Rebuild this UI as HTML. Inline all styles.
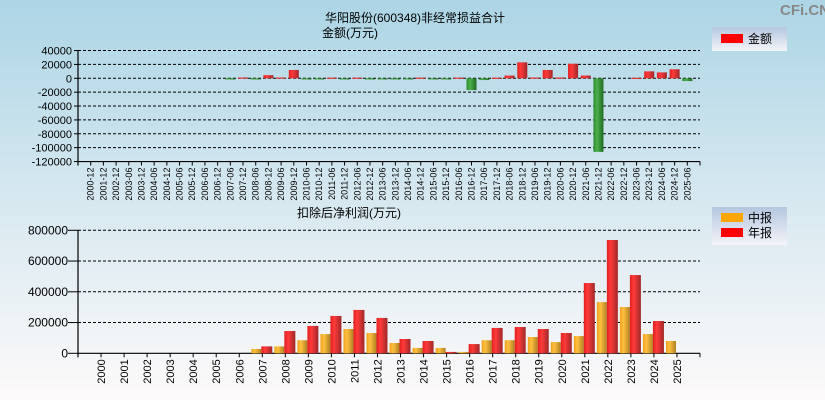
<!DOCTYPE html>
<html><head><meta charset="utf-8"><style>
html,body{margin:0;padding:0;width:825px;height:400px;overflow:hidden}
svg{display:block;font-family:"Liberation Sans","Noto Sans CJK SC",sans-serif}
</style></head><body>
<svg id="c" width="825" height="400" xmlns="http://www.w3.org/2000/svg">
<defs>
<linearGradient id="bg" x1="0" y1="0" x2="0" y2="1"><stop offset="0" stop-color="#acd5e5"/><stop offset="0.55" stop-color="#dbeaf1"/><stop offset="1" stop-color="#fdfafa"/></linearGradient>
<linearGradient id="red" x1="0" y1="0" x2="1" y2="0"><stop offset="0" stop-color="#e02020"/><stop offset="0.35" stop-color="#ff3a3a"/><stop offset="1" stop-color="#a02828"/></linearGradient>
<linearGradient id="grn" x1="0" y1="0" x2="1" y2="0"><stop offset="0" stop-color="#2a8a2a"/><stop offset="0.35" stop-color="#4cb04c"/><stop offset="1" stop-color="#1f6a1f"/></linearGradient>
<linearGradient id="yel" x1="0" y1="0" x2="1" y2="0"><stop offset="0" stop-color="#f0a020"/><stop offset="0.35" stop-color="#ffc040"/><stop offset="1" stop-color="#b08020"/></linearGradient>
<linearGradient id="leg" x1="0" y1="0" x2="0" y2="1"><stop offset="0" stop-color="#b4c6e0"/><stop offset="1" stop-color="#f4f4f8"/></linearGradient>
</defs>
<rect width="825" height="400" fill="url(#bg)"/>
<text x="780" y="15" font-size="15" fill="#888" font-weight="bold">CFi.CN</text>
<text x="325" y="22" font-size="12">华阳股份(600348)非经常损益合计</text>
<text x="322" y="37" font-size="12">金额(万元)</text>
<text x="297" y="217" font-size="12">扣除后净利润(万元)</text>
<g>
<rect x="712" y="27" width="75" height="24" fill="url(#leg)"/>
<rect x="721" y="34" width="22" height="9" fill="#ff0000"/>
<text x="748" y="43" font-size="12">金额</text>
</g>
<g>
<rect x="712" y="207" width="75" height="38" fill="url(#leg)"/>
<rect x="721" y="213" width="22" height="9" fill="#ffa500"/>
<text x="748" y="222" font-size="12">中报</text>
<rect x="721" y="228" width="22" height="9" fill="#ff0000"/>
<text x="748" y="237" font-size="12">年报</text>
</g>
<g id="top"></g><g id="bot"></g>
</svg>
<script>
const topCats=["2000-12","2001-12","2002-12","2003-06","2003-12","2004-06","2004-12","2005-06","2005-12","2006-06","2006-12","2007-06","2007-12","2008-06","2008-12","2009-06","2009-12","2010-06","2010-12","2011-06","2011-12","2012-06","2012-12","2013-06","2013-12","2014-06","2014-12","2015-06","2015-12","2016-06","2016-12","2017-06","2017-12","2018-06","2018-12","2019-06","2019-12","2020-06","2020-12","2021-06","2021-12","2022-06","2022-12","2023-06","2023-12","2024-06","2024-12","2025-06"];
const topVals=[null,null,null,null,null,null,null,null,null,null,null,-600,1200,-700,4500,1200,12000,-600,-700,1000,-700,1000,-700,-700,-700,-800,1000,-700,-800,1000,-17000,-2500,900,4000,23000,1200,12000,1200,21000,4000,-106000,null,null,800,10000,8500,13000,-4000];
const topTicks=[40000,20000,0,-20000,-40000,-60000,-80000,-100000,-120000];
const botCats=["2000","2001","2002","2003","2004","2005","2006","2007","2008","2009","2010","2011","2012","2013","2014","2015","2016","2017","2018","2019","2020","2021","2022","2023","2024","2025"];
const midVals=[null,null,null,null,null,null,null,28000,45000,85000,125000,158000,132000,67000,35000,35000,9000,85000,85000,106000,73000,112000,333000,301000,125000,80000];
const annVals=[null,null,null,null,null,null,null,45000,145000,178000,243000,282000,230000,93000,80000,9000,60000,165000,171000,158000,132000,457000,737000,509000,210000,null];
const botTicks=[800000,600000,400000,200000,0];
const NS="http://www.w3.org/2000/svg";
function mk(p,t,a){const e=document.createElementNS(NS,t);for(const k in a)e.setAttribute(k,a[k]);p.appendChild(e);return e;}
const X0=78,X1=700;
// top chart
const tg=document.getElementById('top');
const tStep=(X1-X0)/(topCats.length+1);
const tx=i=>X0+(i+1)*tStep;
const ty=v=>78.3-(v/160000)*111;
topTicks.forEach(v=>{
 const y=ty(v);
 const l=mk(tg,'line',{x1:X0,x2:X1,y1:y,y2:y,stroke:'#000','stroke-dasharray':'3,2','stroke-width':1});
 
 
 const t=mk(tg,'text',{x:X0-6,y:y+4,'font-size':11,'text-anchor':'end'});t.textContent=v;
 
 
 mk(tg,'line',{x1:X0-4,x2:X0,y1:y,y2:y,stroke:'#000'});
});
mk(tg,'line',{x1:X0,x2:X0,y1:ty(40000),y2:ty(-120000)+4,stroke:'#000','stroke-width':1.2});
mk(tg,'line',{x1:X0,x2:X1,y1:ty(-120000),y2:ty(-120000),stroke:'#000','stroke-width':1.2});
topCats.forEach((c,i)=>{
 const x=tx(i);
 mk(tg,'line',{x1:x,x2:x,y1:ty(-120000),y2:ty(-120000)+4,stroke:'#000'});
 const t=mk(tg,'text',{x:0,y:0,'font-size':9,'text-anchor':'end',transform:`translate(${x+3},${ty(-120000)+6}) rotate(-90)`});t.textContent=c;
 
 
 const v=topVals[i];
 if(v!==null){
  const y0=ty(0),y1=ty(v);
  const r=mk(tg,'rect',{x:x-5,y:Math.min(y0,y1),width:10,height:Math.max(1.2,Math.abs(y1-y0)),fill:v>=0?'url(#red)':'url(#grn)'});
  
  
 }
});
mk(tg,'line',{x1:X1,x2:X1,y1:ty(-120000),y2:ty(-120000)+4,stroke:'#000'});
// bottom chart
const bg=document.getElementById('bot');
const bStep=(X1-X0)/(botCats.length+1);
const bx=i=>X0+(i+1)*bStep;
const by=v=>353.3-(v/800000)*123;
botTicks.forEach(v=>{
 const y=by(v);
 if(v!==0){const l=mk(bg,'line',{x1:X0,x2:X1,y1:y,y2:y,stroke:'#000','stroke-dasharray':'3,2'});
 
 }
 const t=mk(bg,'text',{x:X0-10,y:y+4,'font-size':12,'text-anchor':'end'});t.textContent=v;
 
 
 mk(bg,'line',{x1:X0-10,x2:X0,y1:y,y2:y,stroke:'#000'});
});
mk(bg,'line',{x1:X0,x2:X0,y1:by(800000),y2:by(0)+4,stroke:'#000','stroke-width':1.2});
mk(bg,'line',{x1:X0,x2:X1,y1:by(0),y2:by(0),stroke:'#000','stroke-width':1.2});
mk(bg,'line',{x1:X1,x2:X1,y1:by(0),y2:by(0)+4,stroke:'#000'});
botCats.forEach((c,i)=>{
 const x=bx(i);
 mk(bg,'line',{x1:x,x2:x,y1:by(0),y2:by(0)+4,stroke:'#000'});
 const t=mk(bg,'text',{x:0,y:0,'font-size':11,'text-anchor':'end',transform:`translate(${x+4},${by(0)+6}) rotate(-90)`});t.textContent=c;
 
 
 const m=midVals[i],a=annVals[i];
 if(m!==null){const r=mk(bg,'rect',{x:x-11,y:by(m),width:10,height:by(0)-by(m),fill:'url(#yel)'});
  
  }
 if(a!==null){const r=mk(bg,'rect',{x:x-1,y:by(a),width:11,height:by(0)-by(a),fill:'url(#red)'});
  
  }
});
</script>
</body></html>
